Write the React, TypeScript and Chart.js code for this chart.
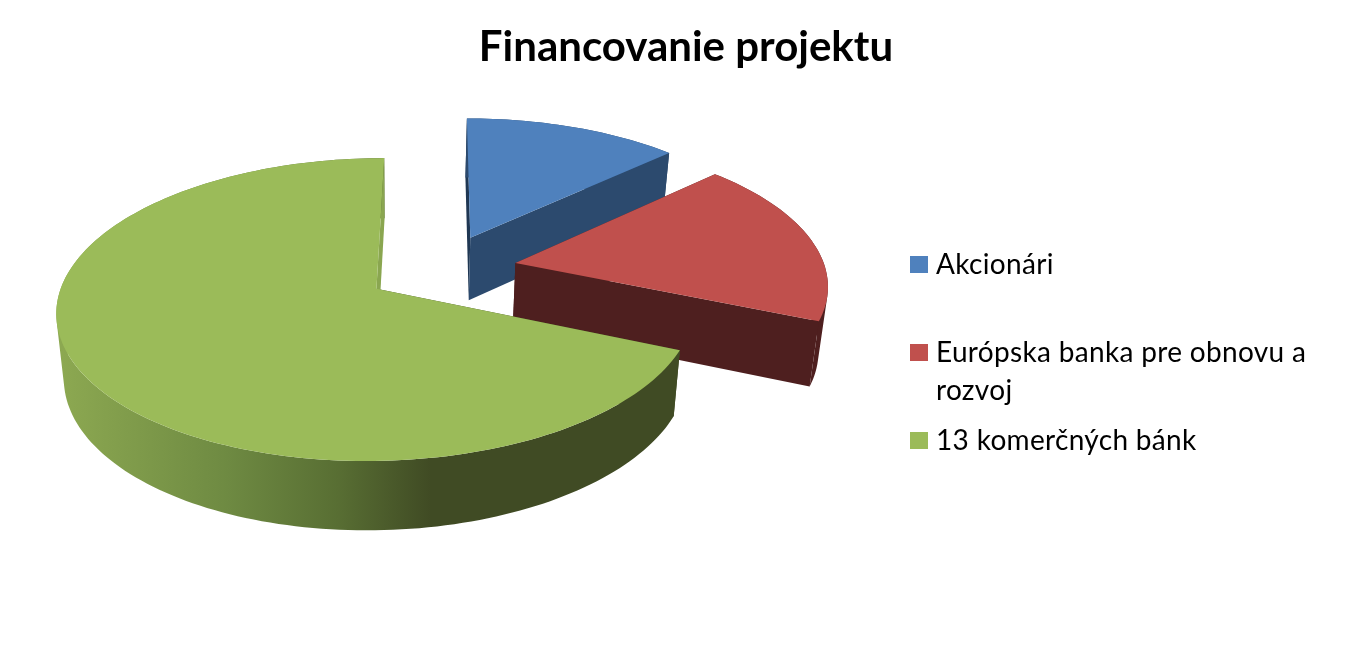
import React, { useEffect, useRef } from "react";
import { Chart, registerables } from "chart.js";

Chart.register(...registerables);

const titleText = "Financovanie projektu";
const categories = ["Akcionári", "Európska banka pre obnovu a rozvoj", "13 komerčných bánk"];
const legendLines = [["Akcionári"], ["Európska banka pre obnovu a", "rozvoj"], ["13 komerčných bánk"]];
const shares = [13, 18.4, 68.6];
const topColors = ["#4F81BD", "#C0504D", "#9BBB59"];
const outerWallColors = ["#2C4A6E", "#4E1F1F", "#404B24"];
const startWallColors = ["#1F3753", "#4E1F1F", "#404B24"];
const endWallColors = ["#2C4A6E", "#4E1F1F", "#8AA650"];
const greenWallStops: [number, string][] = [
  [0, "#8CA851"],
  [0.27, "#6E8A42"],
  [0.45, "#586E33"],
  [0.6, "#404B24"],
  [1, "#404B24"],
];

const FONT = "Lato, Carlito, 'Open Sans', sans-serif";
const CX = 441, CY = 269, K = 0.462, P = 0.135, VX = 400, SHRINK = 0.022;
const legendX = 910, legendTextX = 936;
const legendBaselines = [274, 362, 450];
const legendLineGap = 38;

function project(u: number, v: number, R: number, bottom: boolean): [number, number] {
  const w = 1 + P * v;
  const x = CX + (R * u) / w;
  const y = CY - (R * K * v) / w;
  if (!bottom) return [x, y];
  return [VX + (x - VX) * (1 - SHRINK), y + 63 + (y - 250) * 0.03];
}

const pie3d = {
  id: "pie3d",
  beforeDatasetDraw(chart: any) {
    const { ctx } = chart;
    const meta = chart.getDatasetMeta(0);
    meta.data.forEach((arc: any, i: number) => {
      const R = arc.outerRadius;
      const mid = (arc.startAngle + arc.endAngle) / 2;
      const off = (arc.options.offset || 0) / R;
      const ou = Math.cos(mid) * off;
      const ov = -Math.sin(mid) * off;
      const steps = Math.max(8, Math.ceil((arc.endAngle - arc.startAngle) * 40));
      const rim: [number, number][] = [];
      for (let s = 0; s <= steps; s++) {
        const a = arc.startAngle + ((arc.endAngle - arc.startAngle) * s) / steps;
        rim.push([ou + Math.cos(a), ov - Math.sin(a)]);
      }
      const apex: [number, number] = [ou, ov];
      const tracePoly = (pts: [number, number][]) => {
        let area = 0;
        pts.forEach((p, n) => {
          const q = pts[(n + 1) % pts.length];
          area += p[0] * q[1] - q[0] * p[1];
        });
        const ordered = area < 0 ? pts.slice().reverse() : pts;
        ordered.forEach((p, n) => (n ? ctx.lineTo(p[0], p[1]) : ctx.moveTo(p[0], p[1])));
        ctx.closePath();
      };
      const wallQuad = (a: [number, number], b: [number, number]) => [
        project(a[0], a[1], R, false),
        project(b[0], b[1], R, false),
        project(b[0], b[1], R, true),
        project(a[0], a[1], R, true),
      ];
      let wallStyle: any = outerWallColors[i];
      if (i === 2) {
        const g = ctx.createLinearGradient(62, 0, 676, 0);
        greenWallStops.forEach(([o, c]) => g.addColorStop(o, c));
        wallStyle = g;
      }
      ctx.save();
      ctx.beginPath();
      tracePoly(wallQuad(apex, rim[0]));
      ctx.fillStyle = startWallColors[i];
      ctx.fill();
      ctx.beginPath();
      for (let s = 0; s < steps; s++) tracePoly(wallQuad(rim[s], rim[s + 1]));
      ctx.fillStyle = wallStyle;
      ctx.fill("nonzero");
      ctx.beginPath();
      tracePoly(wallQuad(apex, rim[steps]));
      ctx.fillStyle = endWallColors[i];
      ctx.fill();
      ctx.beginPath();
      tracePoly([project(apex[0], apex[1], R, false), ...rim.map((p) => project(p[0], p[1], R, false))]);
      ctx.fillStyle = arc.options.backgroundColor;
      ctx.fill();
      ctx.restore();
    });
    return false;
  },
  afterDraw(chart: any) {
    const { ctx } = chart;
    ctx.save();
    ctx.font = `28px ${FONT}`;
    ctx.letterSpacing = "0.33px";
    ctx.textBaseline = "alphabetic";
    ctx.textAlign = "left";
    legendLines.forEach((lines, i) => {
      ctx.fillStyle = topColors[i];
      ctx.fillRect(legendX, legendBaselines[i] - (i === 1 ? 18 : 18), 18, 17);
      ctx.fillStyle = "#000";
      lines.forEach((t, j) => ctx.fillText(t, legendTextX, legendBaselines[i] + j * legendLineGap));
    });
    ctx.restore();
  },
};

export default function App() {
  const ref = useRef<HTMLCanvasElement>(null);
  useEffect(() => {
    document.body.style.margin = "0";
    const chart = new Chart(ref.current!, {
      type: "pie",
      data: {
        labels: categories,
        datasets: [{ data: shares, backgroundColor: topColors, borderWidth: 0, offset: 76, radius: 310 } as any],
      },
      options: {
        responsive: false,
        animation: false,
        devicePixelRatio: 1,
        layout: { padding: { left: 17 } },
        plugins: {
          legend: { display: false },
          tooltip: { enabled: false },
          title: {
            display: true,
            text: titleText,
            color: "#000",
            font: { family: FONT, size: 42, weight: "bold" },
            padding: { top: 22, bottom: 10 },
          },
        },
      },
      plugins: [pie3d as any],
    });
    return () => chart.destroy();
  }, []);
  return (
    <div style={{ width: 1355, height: 669, background: "#fff" }}>
      <canvas ref={ref} width={1355} height={669} style={{ display: "block" }} />
    </div>
  );
}
